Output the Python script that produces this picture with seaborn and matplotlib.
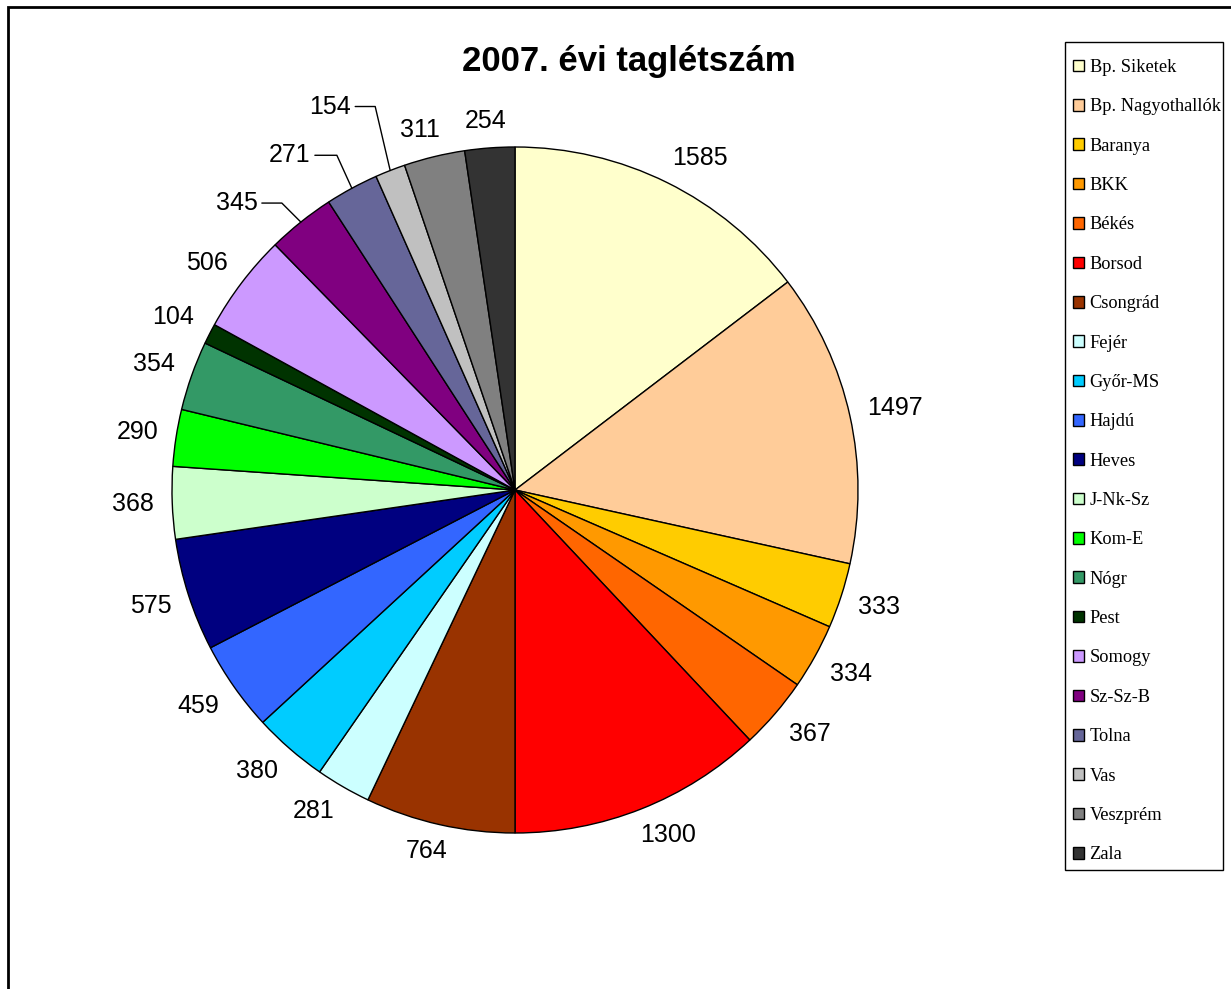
import matplotlib
matplotlib.use("Agg")
import matplotlib.pyplot as plt
import numpy as np
import seaborn as sns
from matplotlib.patches import Rectangle

sns.set_theme(style="white")
plt.rcParams['font.family'] = ['Liberation Sans', 'DejaVu Sans']
plt.rcParams['text.color'] = 'black'

counties = ['Bp. Siketek', 'Bp. Nagyothallók', 'Baranya', 'BKK', 'Békés', 'Borsod',
            'Csongrád', 'Fejér', 'Győr-MS', 'Hajdú', 'Heves', 'J-Nk-Sz', 'Kom-E',
            'Nógr', 'Pest', 'Somogy', 'Sz-Sz-B', 'Tolna', 'Vas', 'Veszprém', 'Zala']
members = [1585, 1497, 333, 334, 367, 1300, 764, 281, 380, 459, 575, 368, 290,
           354, 104, 506, 345, 271, 154, 311, 254]
colors = ['#FFFFCC', '#FFCC99', '#FFCC00', '#FF9900', '#FF6600', '#FF0000',
          '#993300', '#CCFFFF', '#00CCFF', '#3366FF', '#000080', '#CCFFCC',
          '#00FF00', '#339966', '#003300', '#CC99FF', '#800080', '#666699',
          '#C0C0C0', '#808080', '#333333']

# labels pulled out with leader lines: (bend dx, bend dy, line start dx) in px
leader = {'Sz-Sz-B': (-19, 19, -39), 'Tolna': (-15, 33, -37), 'Vas': (-15, 64, -35)}

W, H = 1231, 989
fig = plt.figure(figsize=(W / 100, H / 100), dpi=100)
ax = fig.add_axes([0, 0, 1, 1])

cx, cy, r = 515, H - 490, 343
wedges, _ = ax.pie(members, colors=colors, startangle=90, counterclock=False,
                   center=(cx, cy), radius=r, frame=True,
                   wedgeprops=dict(edgecolor='black', linewidth=1))
ax.set_xlim(0, W)
ax.set_ylim(0, H)
ax.set_aspect('equal')
ax.axis('off')

fs = 18
fs_px = fs * 100 / 72
for w, name, v in zip(wedges, counties, members):
    phi = np.deg2rad((w.theta1 + w.theta2) / 2)
    ex, ey = cx + r * np.cos(phi), cy + r * np.sin(phi)
    if name in leader:
        bx, by, sx = leader[name]
        ax.plot([ex, ex + bx, ex + sx], [ey, ey + by, ey + by], color='black', lw=1)
        ax.text(ex + sx - 4, ey + by, str(v), ha='right', va='center', fontsize=fs)
    else:
        hw = len(str(v)) * 0.556 * fs_px / 2
        hh = 0.716 * fs_px / 2
        R = 361
        lx = cx + R * np.cos(phi) + hw * np.clip(2 * np.cos(phi), -1, 1)
        ly = cy + R * np.sin(phi) + hh * np.clip(2 * np.sin(phi), -1, 1)
        ax.text(lx, ly, str(v), ha='center', va='center', fontsize=fs)

ax.text(629, H - 71, '2007. évi taglétszám', ha='center', va='baseline',
        fontsize=25, fontweight='bold')

# chart area border (only top and left are inside the image)
ax.add_patch(Rectangle((8, -20), W + 20, H - 7 + 20, fill=False,
                       edgecolor='black', lw=2, clip_on=False))

# legend box
ax.add_patch(Rectangle((1065, H - 870), 158, 828, fill=False,
                       edgecolor='black', lw=1))
handles = [Rectangle((0, 0), 1, 1, facecolor=c, edgecolor='black', lw=1)
           for c in colors]
leg = fig.legend(handles, counties, loc='upper left',
                 bbox_to_anchor=(1073 / W, 1 - 59 / H), borderaxespad=0,
                 prop={'family': 'Liberation Serif', 'size': 13.2},
                 handlelength=0.6, handleheight=0.6, handletextpad=0.3,
                 labelspacing=1.22, frameon=False, borderpad=0)

fig.savefig('out.png', dpi=100)
